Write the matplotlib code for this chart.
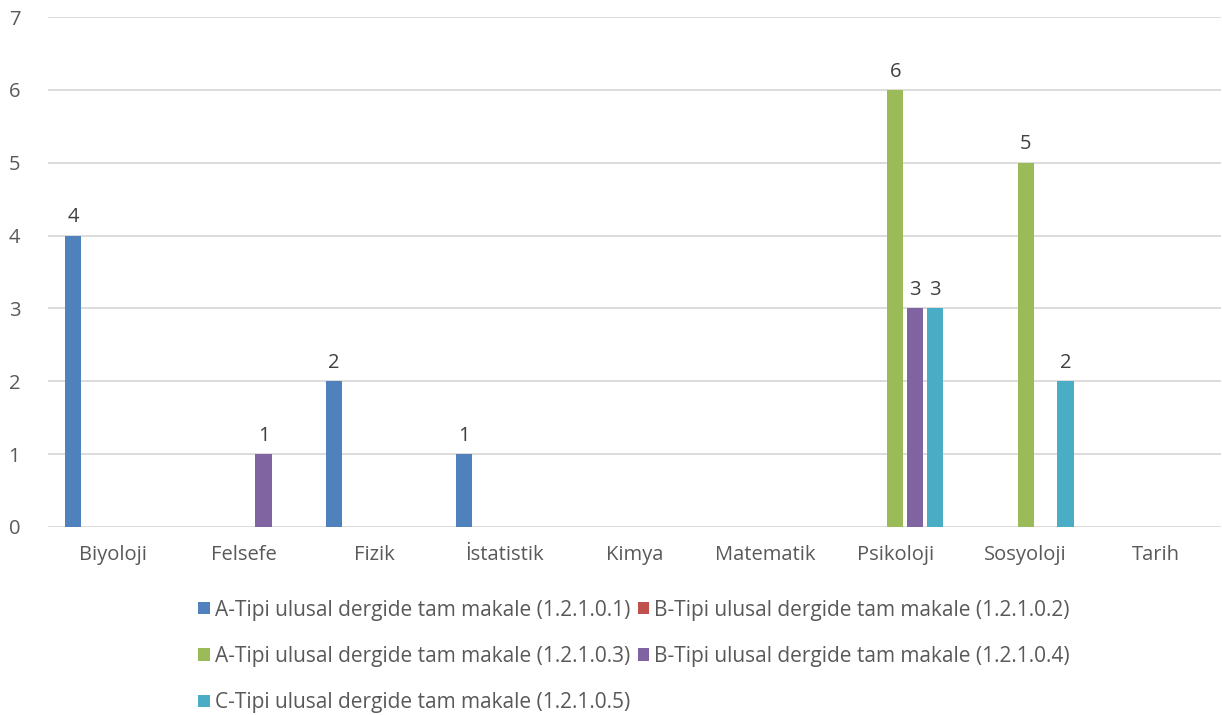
import matplotlib
matplotlib.use('Agg')
import matplotlib.pyplot as plt
import numpy as np

plt.rcParams['font.family'] = ['Open Sans', 'DejaVu Sans']

# data
categories = ['Biyoloji', 'Felsefe', 'Fizik', 'İstatistik', 'Kimya',
              'Matematik', 'Psikoloji', 'Sosyoloji', 'Tarih']
series_names = [
    'A-Tipi ulusal dergide tam makale (1.2.1.0.1)',
    'B-Tipi ulusal dergide tam makale (1.2.1.0.2)',
    'A-Tipi ulusal dergide tam makale (1.2.1.0.3)',
    'B-Tipi ulusal dergide tam makale (1.2.1.0.4)',
    'C-Tipi ulusal dergide tam makale (1.2.1.0.5)',
]
a_1 = [4, 0, 2, 1, 0, 0, 0, 0, 0]
b_2 = [0, 0, 0, 0, 0, 0, 0, 0, 0]
a_3 = [0, 0, 0, 0, 0, 0, 6, 5, 0]
b_4 = [0, 1, 0, 0, 0, 0, 3, 0, 0]
c_5 = [0, 0, 0, 0, 0, 0, 3, 2, 0]
colors = ['#4F81BD', '#C0504D', '#9BBB59', '#8064A2', '#4BACC6']

all_series = [a_1, b_2, a_3, b_4, c_5]

fig = plt.figure(figsize=(12.22, 7.15), dpi=100)
ax = fig.add_axes([0.0393, 0.263, 0.96, 0.713])

x = np.arange(len(categories))
step = 0.153
width = 0.123
bars = []
for i, (vals, col) in enumerate(zip(all_series, colors)):
    b = ax.bar(x + (i - 2) * step, vals, width=width, color=col, zorder=3)
    bars.append(b)
    for xi, v in zip(x, vals):
        if v > 0:
            ax.annotate(str(v), (xi + (i - 2) * step, v), xytext=(0, 6),
                        textcoords='offset points', ha='center', va='bottom',
                        fontsize=14.5, color='#404040')

ax.set_xlim(-0.5, len(categories) - 0.5)
ax.set_ylim(0, 7)
ax.set_yticks(range(0, 8))
ax.grid(axis='y', color='#D9D9D9', linewidth=1.3, zorder=0)
for s in ax.spines.values():
    s.set_visible(False)
ax.set_xticks(x)
ax.set_xticklabels(categories)
ax.tick_params(axis='both', length=0, labelsize=14.5, colors='#595959')
ax.tick_params(axis='y', pad=20)
ax.tick_params(axis='x', pad=13)

order = [0, 2, 4, 1, 3]
handles = [bars[i] for i in order]
labels = [series_names[i] for i in order]
fig.legend(handles, labels, loc='upper center', bbox_to_anchor=(0.519, 0.176),
           ncol=2, frameon=False, fontsize=15, labelcolor='#595959',
           handlelength=0.55, handleheight=0.55, handletextpad=0.25,
           columnspacing=0.35, labelspacing=1.22, borderpad=0)

fig.savefig('out.png', dpi=100)
